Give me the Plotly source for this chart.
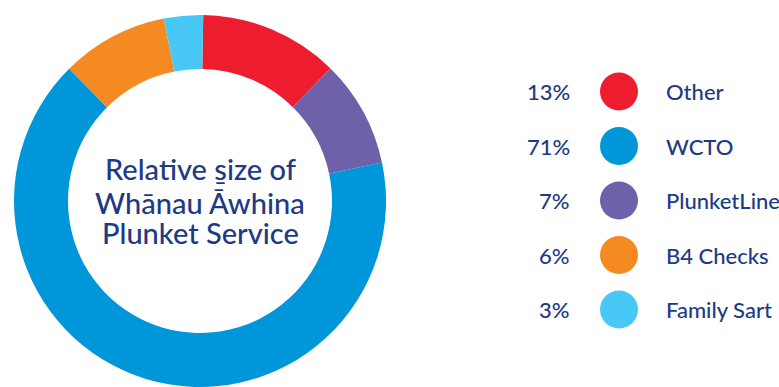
import plotly.graph_objects as go

# ---- data ----
services = ["Other", "PlunketLine", "WCTO", "B4 Checks", "Family Sart"]
slice_values = [12.1, 9.3, 65.9, 9.3, 3.4]
slice_colors = ["#ED1C2E", "#6E61A9", "#0096DA", "#F58A22", "#48C9F5"]

legend_order = ["Other", "WCTO", "PlunketLine", "B4 Checks", "Family Sart"]
legend_pcts = ["13%", "71%", "7%", "6%", "3%"]
legend_colors = ["#ED1C2E", "#0096DA", "#6E61A9", "#F58A22", "#48C9F5"]

center_lines = ["Relative s\u0331ize of", "Wh\u0101nau \u0100whina", "Plunket Service"]

NAVY = "#1D3A85"
FONT = "Lato, 'Open Sans', sans-serif"
W, H = 779, 387

fig = go.Figure()

# donut
cx, cy, R = 200, 201, 186
fig.add_trace(go.Pie(
    labels=services, values=slice_values,
    marker=dict(colors=slice_colors, line=dict(width=0)),
    hole=132 / R, sort=False, direction="clockwise", rotation=1,
    textinfo="none", hoverinfo="label+percent",
    domain=dict(x=[(cx - R) / W, (cx + R) / W], y=[1 - (cy + R) / H, 1 - (cy - R) / H]),
    showlegend=False,
))

# legend dots
fig.add_trace(go.Scatter(
    x=[619] * len(legend_order), y=legend_order, mode="markers",
    marker=dict(size=38, color=legend_colors, line=dict(width=0)),
    hoverinfo="skip", showlegend=False,
))

annotations = []
for name, pct in zip(legend_order, legend_pcts):
    annotations.append(dict(x=572, y=name, xref="x", yref="y", text=pct, showarrow=False,
                            xanchor="right", yanchor="middle",
                            font=dict(family=FONT, size=22, color=NAVY, weight=500)))
    annotations.append(dict(x=664, y=name, xref="x", yref="y", text=name, showarrow=False,
                            xanchor="left", yanchor="middle",
                            font=dict(family=FONT, size=22, color=NAVY, weight=500)))

line_px = [168, 202, 232]
for txt, py in zip(center_lines, line_px):
    annotations.append(dict(x=cx / W, y=1 - py / H, xref="paper", yref="paper", text=txt,
                            showarrow=False, xanchor="center", yanchor="middle",
                            font=dict(family=FONT, size=29, color=NAVY, weight=500)))

step = 54.5
first = 91.5
fig.update_layout(
    width=W, height=H, margin=dict(l=0, r=0, t=0, b=0),
    paper_bgcolor="white", plot_bgcolor="rgba(0,0,0,0)",
    showlegend=False,
    xaxis=dict(range=[0, W], visible=False, fixedrange=True),
    yaxis=dict(type="category", categoryarray=legend_order, categoryorder="array",
               range=[(H - first) / step, -first / step], visible=False, fixedrange=True),
    annotations=annotations,
)

fig.write_html("out.html")
